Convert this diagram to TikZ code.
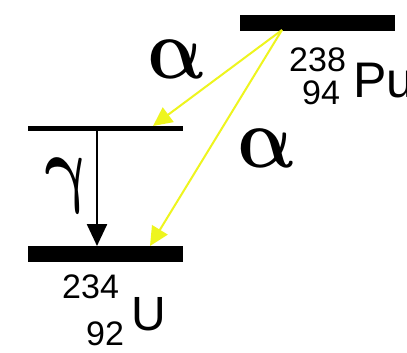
\documentclass[tikz,border=0pt]{standalone}
\usepackage{fontspec}
\setmainfont{Liberation Sans}
\usetikzlibrary{arrows.meta}
\definecolor{ayellow}{RGB}{238,245,30}
\begin{document}
\begin{tikzpicture}[x=1pt,y=-1pt,
  thickbar/.style={line width=16pt},
  thinbar/.style={line width=5pt},
  lbl/.style={inner sep=0pt,anchor=base west},
  greek/.style={inner sep=0pt,anchor=base west,xslant=-0.22,scale=8.6,font=\normalsize\boldmath},
  alphaarrow/.style={ayellow,line width=2pt,-{Triangle[width=18pt,length=19pt]}},
  gammaarrow/.style={black,line width=2.5pt,-{Triangle[width=20pt,length=22pt]}}]
\useasboundingbox[fill=white] (0,0) rectangle (407,353);
% levels
\coordinate (puL) at (240,23); \coordinate (puR) at (395,23);
\coordinate (exL) at (28,128.5); \coordinate (exR) at (183,128.5);
\coordinate (gsL) at (28,254); \coordinate (gsR) at (183,254);
\draw[thickbar] (puL) -- (puR);
\draw[thinbar] (exL) -- (exR);
\draw[thickbar] (gsL) -- (gsR);
% transitions
\coordinate (src) at (282,30);
\coordinate (exT) at (153,126);
\coordinate (gsT) at (150,246);
\coordinate (gTop) at (97,131);
\coordinate (gBot) at (97,246);
\draw[alphaarrow] (src) -- (exT);
\draw[alphaarrow] (src) -- (gsT);
\draw[gammaarrow] (gTop) -- (gBot);
% labels
\node[greek,xscale=0.87] (a1) at (150,78) {$\alpha$};
\node[greek,xscale=0.87] (a2) at (240,167) {$\alpha$};
\node[greek,xscale=0.75] (g) at (49,196) {$\gamma$};
\node[lbl,font=\fontsize{34}{34}\selectfont] (pA) at (289,72) {238};
\node[lbl,font=\fontsize{34}{34}\selectfont] (pZ) at (302,104) {94};
\node[lbl,font=\fontsize{50}{50}\selectfont] (pu) at (353,97) {Pu};
\node[lbl,font=\fontsize{34}{34}\selectfont] (uA) at (62,298) {234};
\node[lbl,font=\fontsize{34}{34}\selectfont] (uZ) at (86,345) {92};
\node[lbl,font=\fontsize{48}{48}\selectfont] (u) at (131,330) {U};
\end{tikzpicture}
\end{document}
